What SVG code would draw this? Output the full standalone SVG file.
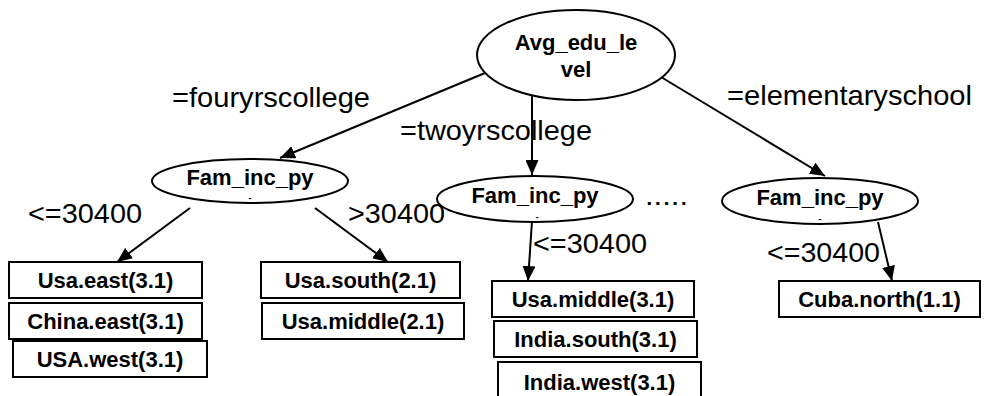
<svg xmlns="http://www.w3.org/2000/svg" width="987" height="396" viewBox="0 0 987 396">
<style>
.n{fill:#fff;stroke:#000;stroke-width:2}
.b{font-family:"Liberation Sans",Arial,sans-serif;font-weight:bold;font-size:22px;text-anchor:middle;fill:#000}
.l{font-family:"Liberation Sans",Arial,sans-serif;font-size:28px;fill:#000}
.d{font-family:"Liberation Sans",Arial,sans-serif;font-size:9px;font-weight:bold;text-anchor:middle;fill:#000}
.e{stroke:#000;stroke-width:2;fill:none;marker-end:url(#ah)}
</style>
<defs>
<marker id="ah" markerUnits="userSpaceOnUse" markerWidth="16" markerHeight="13" refX="15" refY="6.5" orient="auto">
<path d="M0,0 L15,6.5 L0,13 Z" fill="#000"/>
</marker>
</defs>
<rect width="987" height="396" fill="#fff"/>
<g id="edges">
<line class="e" x1="485" y1="73" x2="280" y2="158"/>
<line class="e" x1="532" y1="96" x2="532" y2="175"/>
<line class="e" x1="661" y1="77" x2="825" y2="176"/>
<line class="e" x1="190" y1="208" x2="117" y2="262"/>
<line class="e" x1="315" y1="208" x2="388" y2="262"/>
<line class="e" x1="532" y1="221" x2="528" y2="281"/>
<line class="e" x1="878" y1="222" x2="892" y2="281"/>
</g>
<g id="edge-labels">
<text class="l" x="172" y="107" textLength="198" lengthAdjust="spacingAndGlyphs">=fouryrscollege</text>
<text class="l" x="400" y="140" textLength="192" lengthAdjust="spacingAndGlyphs">=twoyrscollege</text>
<text class="l" x="727" y="105" textLength="245" lengthAdjust="spacingAndGlyphs">=elementaryschool</text>
<text class="l" x="28" y="223" textLength="114" lengthAdjust="spacingAndGlyphs">&lt;=30400</text>
<text class="l" x="348" y="223" textLength="97" lengthAdjust="spacingAndGlyphs">&gt;30400</text>
<text class="l" x="533" y="253" textLength="114" lengthAdjust="spacingAndGlyphs">&lt;=30400</text>
<text class="l" x="767" y="262" textLength="113" lengthAdjust="spacingAndGlyphs">&lt;=30400</text>
<text class="l" x="645" y="205" textLength="43" lengthAdjust="spacingAndGlyphs">.....</text>
</g>
<g id="root">
<ellipse class="n" cx="576" cy="55" rx="99" ry="45"/>
<text class="b" x="576" y="50">Avg_edu_le</text>
<text class="b" x="576" y="77">vel</text>
</g>
<g id="fam1">
<ellipse class="n" cx="250" cy="181" rx="98" ry="22"/>
<text class="b" x="250" y="185">Fam_inc_py</text>
<text class="d" x="250" y="201">-</text>
</g>
<g id="fam2">
<ellipse class="n" cx="535" cy="199" rx="98" ry="23"/>
<text class="b" x="535" y="203">Fam_inc_py</text>
<text class="d" x="537" y="220">-</text>
</g>
<g id="fam3">
<ellipse class="n" cx="820" cy="201" rx="98" ry="23"/>
<text class="b" x="820" y="205">Fam_inc_py</text>
<text class="d" x="820" y="222">-</text>
</g>
<g id="usa-east"><rect class="n" x="9" y="262" width="193" height="36"/><text class="b" x="105.5" y="288">Usa.east(3.1)</text></g>
<g id="china-east"><rect class="n" x="9" y="303" width="193" height="36"/><text class="b" x="105.5" y="329">China.east(3.1)</text></g>
<g id="usa-west"><rect class="n" x="13" y="341" width="194" height="36"/><text class="b" x="110" y="367">USA.west(3.1)</text></g>
<g id="usa-south"><rect class="n" x="261" y="262" width="199" height="36"/><text class="b" x="360.5" y="288">Usa.south(2.1)</text></g>
<g id="usa-middle-2"><rect class="n" x="262" y="303" width="202" height="36"/><text class="b" x="363" y="329">Usa.middle(2.1)</text></g>
<g id="usa-middle-3"><rect class="n" x="492" y="281" width="202" height="36"/><text class="b" x="593" y="307">Usa.middle(3.1)</text></g>
<g id="india-south"><rect class="n" x="494" y="321" width="203" height="36"/><text class="b" x="595.5" y="347">India.south(3.1)</text></g>
<g id="india-west"><rect class="n" x="498" y="362" width="203" height="40"/><text class="b" x="599.5" y="390">India.west(3.1)</text></g>
<g id="cuba-north"><rect class="n" x="779" y="281" width="201" height="36"/><text class="b" x="879.5" y="307">Cuba.north(1.1)</text></g>
</svg>
